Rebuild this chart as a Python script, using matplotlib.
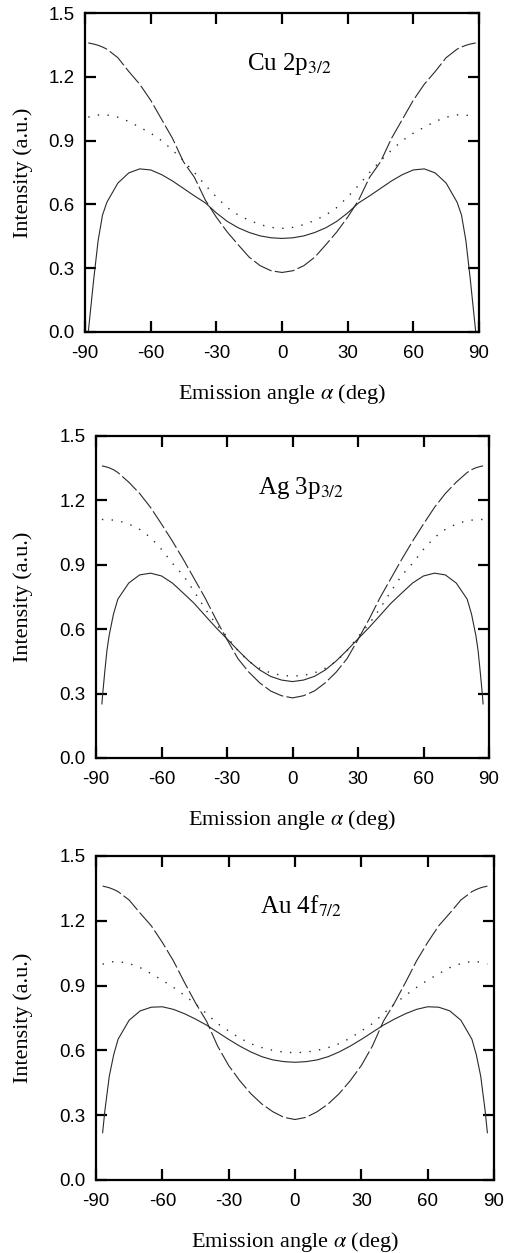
import numpy as np
import matplotlib.pyplot as plt

# Curves are symmetric about 0 deg, so values are read for alpha >= 0 only
# Cu 2p3/2
cu_angles = [0, 5, 10, 15, 20, 25, 30, 35, 40, 45, 50, 55, 60, 65, 70, 75, 80, 82, 84, 86, 87, 88, 88.5]
cu_solid = [0.44, 0.443, 0.452, 0.468, 0.49, 0.52, 0.56, 0.607, 0.64, 0.675, 0.71, 0.74, 0.762, 0.767,
            0.748, 0.70, 0.61, 0.55, 0.43, 0.25, 0.15, 0.05, 0.0]
cu_dashed = [0.28, 0.288, 0.312, 0.352, 0.41, 0.47, 0.54, 0.62, 0.727, 0.80, 0.91, 1.0, 1.09, 1.165,
             1.225, 1.29, 1.33, 1.34, 1.348, 1.354, 1.356, 1.358, 1.36]
cu_dotted = [0.487, 0.492, 0.505, 0.525, 0.55, 0.585, 0.635, 0.69, 0.75, 0.805, 0.855, 0.9, 0.935, 0.963,
             0.99, 1.01, 1.021, 1.021, 1.02, 1.016, 1.014, 1.012, 1.01]

# Ag 3p3/2
ag_angles = [0, 5, 10, 15, 20, 25, 30, 35, 40, 45, 50, 55, 60, 65, 70, 75, 80, 82, 84, 85, 86, 87, 87.3]
ag_solid = [0.356, 0.363, 0.38, 0.41, 0.452, 0.502, 0.555, 0.607, 0.663, 0.72, 0.768, 0.815, 0.848, 0.861,
            0.853, 0.815, 0.74, 0.67, 0.57, 0.5, 0.40, 0.29, 0.252]
ag_dashed = [0.28, 0.29, 0.312, 0.35, 0.40, 0.463, 0.552, 0.645, 0.745, 0.835, 0.925, 1.01, 1.09, 1.167,
             1.232, 1.285, 1.33, 1.343, 1.352, 1.355, 1.358, 1.36, 1.361]
ag_dotted = [0.381, 0.385, 0.396, 0.418, 0.45, 0.5, 0.565, 0.623, 0.695, 0.775, 0.85, 0.907, 0.972, 1.027,
             1.065, 1.09, 1.106, 1.108, 1.11, 1.11, 1.111, 1.111, 1.111]

# Au 4f7/2
au_angles = [0, 5, 10, 15, 20, 25, 30, 35, 40, 45, 50, 55, 60, 65, 70, 75, 80, 82, 84, 85, 86, 87]
au_solid = [0.545, 0.548, 0.556, 0.571, 0.593, 0.62, 0.651, 0.684, 0.717, 0.745, 0.77, 0.79, 0.802, 0.8,
            0.783, 0.74, 0.652, 0.58, 0.48, 0.40, 0.32, 0.219]
au_dashed = [0.28, 0.29, 0.316, 0.352, 0.40, 0.46, 0.53, 0.62, 0.735, 0.82, 0.915, 1.015, 1.1, 1.177,
             1.235, 1.296, 1.335, 1.345, 1.353, 1.356, 1.358, 1.361]
au_dotted = [0.589, 0.592, 0.6, 0.613, 0.631, 0.657, 0.69, 0.724, 0.77, 0.815, 0.855, 0.892, 0.925, 0.955,
             0.983, 1.002, 1.012, 1.011, 1.008, 1.006, 1.003, 0.999]

labels = ["Cu 2p$_{3/2}$", "Ag 3p$_{3/2}$", "Au 4f$_{7/2}$"]
x_ticks = [-90, -60, -30, 0, 30, 60, 90]
y_ticks = [0.0, 0.3, 0.6, 0.9, 1.2, 1.5]

plt.rcParams['axes.unicode_minus'] = False
plt.rcParams['mathtext.fontset'] = 'stix'

W, H = 511, 1253
# axes boxes in pixels: left, right, top, bottom
boxes = [(85, 479, 13, 332), (96, 489, 436, 758), (96, 494, 856, 1180)]


def mirror(angles, values):
    a = np.array(angles, dtype=float)
    v = np.array(values, dtype=float)
    return np.concatenate([-a[::-1], a[1:]]), np.concatenate([v[::-1], v[1:]])


def plot_panel(fig, box, angles, solid, dashed, dotted, label):
    l, r, t, b = box
    ax = fig.add_axes([l / W, (H - b) / H, (r - l) / W, (b - t) / H])

    x, y = mirror(angles, solid)
    ax.plot(x, y, color='#2a2a2a', lw=0.8)
    x, y = mirror(angles, dashed)
    ax.plot(x, y, color='#2a2a2a', lw=0.8, dashes=(18, 3))
    x, y = mirror(angles, dotted)
    ax.plot(x, y, color='#2a2a2a', lw=1.0, dashes=(1, 6))

    ax.set_xlim(-90, 90)
    ax.set_ylim(0, 1.5)
    ax.set_xticks(x_ticks)
    ax.set_yticks(y_ticks)
    ax.set_xticklabels([str(v) for v in x_ticks], family='Liberation Sans', fontsize=13.5)
    ax.set_yticklabels([f"{v:.1f}" for v in y_ticks], family='Liberation Sans', fontsize=13.5)
    ax.tick_params(direction='in', length=8, width=1.6, top=True, right=True)
    ax.tick_params(axis='x', pad=9)
    ax.tick_params(axis='y', pad=7.5)
    for s in ax.spines.values():
        s.set_linewidth(1.6)

    h = b - t
    w = r - l
    ax.set_xlabel(r"Emission angle $\alpha$ (deg)", family='Liberation Serif', fontsize=16)
    ax.xaxis.set_label_coords(0.5, -50 / h)
    ax.set_ylabel("Intensity (a.u.)", family='Liberation Serif', fontsize=16)
    ax.yaxis.set_label_coords(-(l - 33) / w, 0.5)
    ax.text(-16, 1.232, label, family='Liberation Serif', fontsize=18)
    return ax


fig = plt.figure(figsize=(W / 100, H / 100), dpi=100)
plot_panel(fig, boxes[0], cu_angles, cu_solid, cu_dashed, cu_dotted, labels[0])
plot_panel(fig, boxes[1], ag_angles, ag_solid, ag_dashed, ag_dotted, labels[1])
plot_panel(fig, boxes[2], au_angles, au_solid, au_dashed, au_dotted, labels[2])

fig.savefig("out.png", dpi=100)
